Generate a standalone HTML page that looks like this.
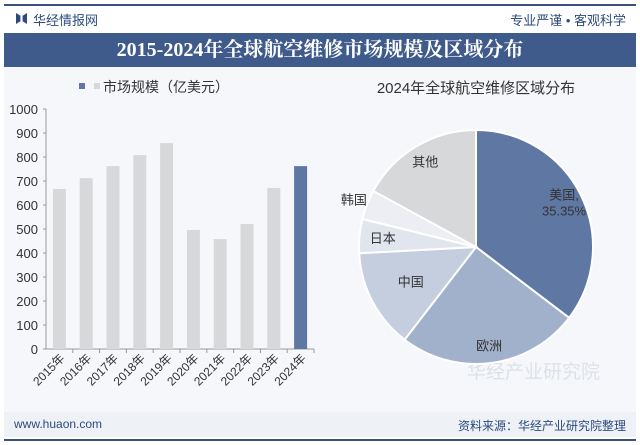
<!DOCTYPE html>
<html><head><meta charset="utf-8"><style>
body{margin:0;width:640px;height:445px;overflow:hidden;background:#fff;font-family:"Liberation Sans","Noto Sans CJK SC",sans-serif}
.abs{position:absolute}
</style></head><body>
<div class="abs" style="left:4px;top:4px;width:632px;height:2px;background:#3a5080"></div>
<div class="abs" style="left:16px;top:13px;width:11px;height:11px;background:#2d4a7c;clip-path:polygon(0 0,40% 25%,40% 75%,0 100%,0 0,100% 0,100% 100%,60% 75%,60% 25%,100% 0)"></div>
<div class="abs" style="left:33px;top:10px;font-size:13px;color:#2d4a7c">华经情报网</div>
<div class="abs" style="right:14px;top:10px;font-size:13px;color:#2d4a7c">专业严谨 • 客观科学</div>
<div class="abs" style="left:4px;top:33px;width:632px;height:34px;background:#3f5b8c;color:#fff;font-family:'Liberation Serif','Noto Serif CJK SC',serif;font-weight:bold;font-size:20px;text-align:center;line-height:34px">2015-2024年全球航空维修市场规模及区域分布</div>
<div class="abs" style="left:4px;top:67px;width:632px;height:345px;background:#f5f7fa"></div>
<div class="abs" style="left:4px;top:412px;width:632px;height:25px;background:#eef1f6"></div>
<div class="abs" style="left:14px;top:417px;font-size:12px;color:#2d4a7c">www.huaon.com</div>
<div class="abs" style="right:14px;top:417px;font-size:12px;color:#2d4a7c">资料来源：华经产业研究院整理</div>
<div class="abs" style="left:4px;top:439px;width:632px;height:2px;background:#3a5080"></div>
<svg class="abs" style="left:0;top:0" width="640" height="445" id="chart">
<text x="467" y="378" font-size="19" fill="#dde2ea">华经产业研究院</text>
</svg>
<script>
const years=["2015年","2016年","2017年","2018年","2019年","2020年","2021年","2022年","2023年","2024年"];
const sizes=[667,712,762,808,858,496,458,521,671,762];
const yTicks=[0,100,200,300,400,500,600,700,800,900,1000];
const regions=["美国","欧洲","中国","日本","韩国","其他"];
const shares=[35.35,25.1,13.7,4.7,4.1,17.05];
const colors=["#5e77a3","#a1b0cb","#c5cedf","#e0e5ee","#eceef3","#d7d8da"];
const NS="http://www.w3.org/2000/svg";
const svg=document.getElementById('chart');
function mk(t,a){const e=document.createElementNS(NS,t);for(const k in a)e.setAttribute(k,a[k]);svg.appendChild(e);return e;}
const x0=46,x1=314,yB=349,yT=109;
const ys=v=>yB-(v/1000)*(yB-yT);
const step=(x1-x0)/years.length;
const xs=i=>x0+step*(i+0.5);
let ax=mk('line',{x1:x0,y1:yT,x2:x0,y2:yB,stroke:'#999'});

let bx=mk('line',{x1:x0,y1:yB,x2:x1,y2:yB,stroke:'#999'});

yTicks.forEach(v=>{const t=mk('text',{x:38,y:ys(v)+5,'font-size':13,'text-anchor':'end',fill:'#333'});t.textContent=v;

mk('line',{x1:x0-3,y1:ys(v),x2:x0,y2:ys(v),stroke:'#999'});});
years.forEach((y,i)=>{
const r=mk('rect',{x:xs(i)-6.5,y:ys(sizes[i]),width:13,height:yB-ys(sizes[i]),fill:i==9?'#5e77a3':'#d7d8da'});

mk('line',{x1:x0+step*(i+1),y1:yB,x2:x0+step*(i+1),y2:yB+4,stroke:'#999'});
const t=mk('text',{x:xs(i)+6,y:yB+10,'font-size':12,'text-anchor':'end',fill:'#333',transform:`rotate(-45 ${xs(i)+6} ${yB+10})`});t.textContent=y;
});
let lg=mk('rect',{x:79,y:83,width:6,height:6,fill:'#5e77a3'});

mk('rect',{x:94,y:83,width:6,height:6,fill:'#d7d8da'});
let lt=mk('text',{x:103,y:92,'font-size':14,fill:'#333'});lt.textContent='市场规模（亿美元）';

let pt=mk('text',{x:476,y:93,'font-size':15,'text-anchor':'middle',fill:'#333'});pt.textContent='2024年全球航空维修区域分布';

const cx=476,cy=247,R=117;const tot=shares.reduce((a,b)=>a+b,0);
const labR=[0.84,0.85,0.63,0.8,1.12,0.85];
let acc=0;
const pos=a=>[cx+R*Math.sin(a),cy-R*Math.cos(a)];
shares.forEach((s,i)=>{const a0=acc/tot*2*Math.PI;acc+=s;const a1=acc/tot*2*Math.PI;
const p0=pos(a0),p1=pos(a1);
const p=mk('path',{d:`M${cx},${cy}L${p0[0]},${p0[1]}A${R},${R} 0 ${a1-a0>Math.PI?1:0} 1 ${p1[0]},${p1[1]}Z`,fill:colors[i],stroke:'#fff','stroke-width':2});

const am=(a0+a1)/2;const rr=R*labR[i];
let lx=cx+rr*Math.sin(am),ly=cy-rr*Math.cos(am);
const t=mk('text',{x:lx,y:ly+5,'font-size':13,'text-anchor':'middle',fill:'#333'});

if(i==0){t.setAttribute('y',ly-4);t.textContent=regions[i]+',';const t2=mk('text',{x:lx,y:ly+12,'font-size':13,'text-anchor':'middle',fill:'#333'});t2.textContent=shares[i].toFixed(2)+'%';
}
else t.textContent=regions[i];});
</script>
</body></html>
